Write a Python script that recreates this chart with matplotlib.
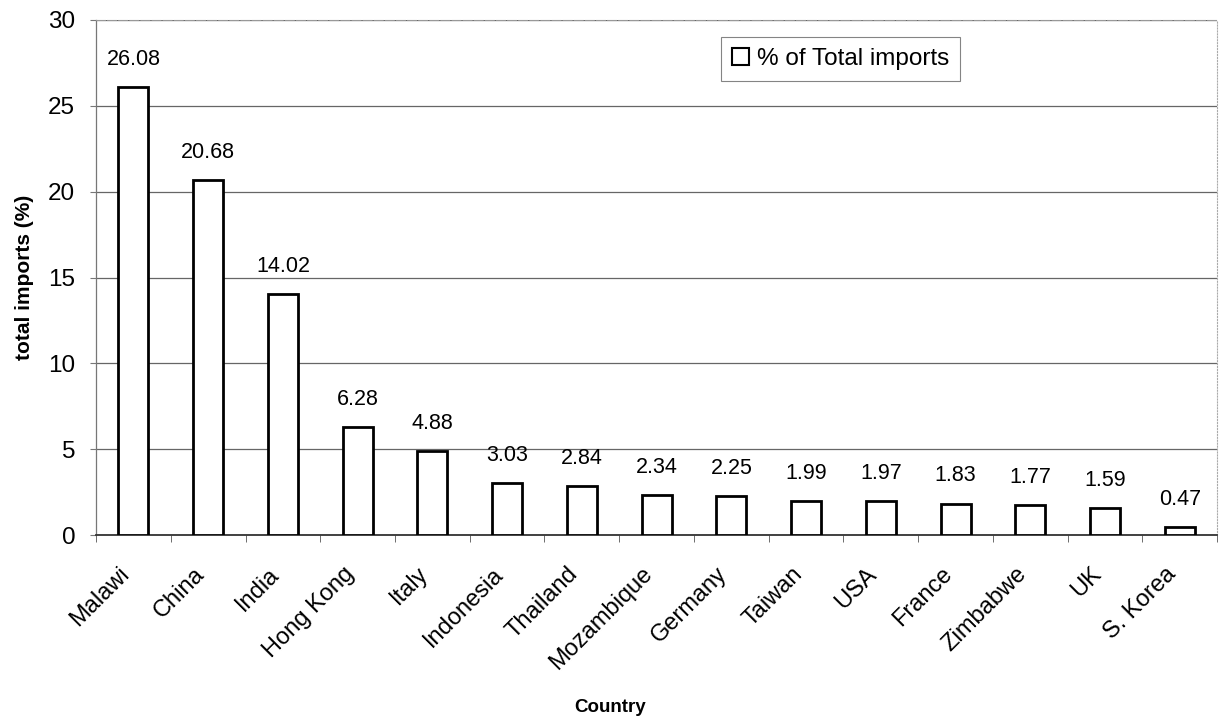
import matplotlib.pyplot as plt
import matplotlib.transforms as mtransforms
import numpy as np
from matplotlib.patches import Patch

plt.rcParams['font.family'] = ['Liberation Sans', 'DejaVu Sans']

# Datos
countries = ['Malawi', 'China', 'India', 'Hong Kong', 'Italy', 'Indonesia', 'Thailand',
             'Mozambique', 'Germany', 'Taiwan', 'USA', 'France', 'Zimbabwe', 'UK', 'S. Korea']
imports_pct = [26.08, 20.68, 14.02, 6.28, 4.88, 3.03, 2.84, 2.34, 2.25, 1.99, 1.97, 1.83, 1.77, 1.59, 0.47]

fig = plt.figure(figsize=(12.2, 7.26), dpi=100)
ax = fig.add_axes([0.0787, 0.263, 0.919, 0.7095])

x = np.arange(len(countries))
bars = ax.bar(x, imports_pct, width=0.4, color='white', edgecolor='black', linewidth=2, zorder=3)

for xi, v in zip(x, imports_pct):
    ax.text(xi, v + 1.0, f'{v:.2f}', ha='center', va='bottom', fontsize=15.5)

ax.set_xlim(-0.5, len(countries) - 0.5)
ax.set_ylim(0, 30)
ax.set_yticks(range(0, 31, 5))
ax.tick_params(axis='y', labelsize=17.5, length=4, color='#777777', width=0.8, pad=11)
ax.grid(axis='y', color='#666666', linewidth=0.9, zorder=0)

ax.set_xticks(x)
ax.set_xticklabels(countries, rotation=45, ha='right', rotation_mode='anchor', fontsize=17)
ax.tick_params(axis='x', length=0, pad=8)
# desplazar etiquetas un poco hacia abajo-izquierda
offset = mtransforms.ScaledTranslation(-0.15, -0.17, fig.dpi_scale_trans)
for lab in ax.get_xticklabels():
    lab.set_transform(lab.get_transform() + offset)
# marcas entre categorías
ax.set_xticks(np.arange(-0.5, len(countries), 1), minor=True)
ax.tick_params(axis='x', which='minor', length=5, color='#555555')

ax.spines['left'].set_color('#777777')
ax.spines['left'].set_linewidth(0.9)
ax.spines['bottom'].set_color('#333333')
ax.spines['bottom'].set_linewidth(1.3)
ax.spines['top'].set_color('#999999')
ax.spines['top'].set_linestyle((0, (8, 2)))
ax.spines['top'].set_linewidth(0.8)
ax.spines['right'].set_color('#aaaaaa')
ax.spines['right'].set_linestyle(':')
ax.spines['right'].set_linewidth(0.8)

ax.set_ylabel('total imports (%)', fontsize=15, fontweight='bold', labelpad=10)
fig.text(0.5, 0.025, 'Country', ha='center', va='center', fontsize=13.5, fontweight='bold')

leg = ax.legend(handles=[Patch(facecolor='white', edgecolor='black', linewidth=1.5, label='% of Total imports')],
                loc='upper left', bbox_to_anchor=(0.547, 0.99), fontsize=17.5, frameon=True,
                fancybox=False, handlelength=0.7, handleheight=0.7, handletextpad=0.3,
                borderpad=0.45)
leg.get_frame().set_edgecolor('#666666')
leg.get_frame().set_linewidth(0.8)

plt.savefig('out.png', dpi=100)
